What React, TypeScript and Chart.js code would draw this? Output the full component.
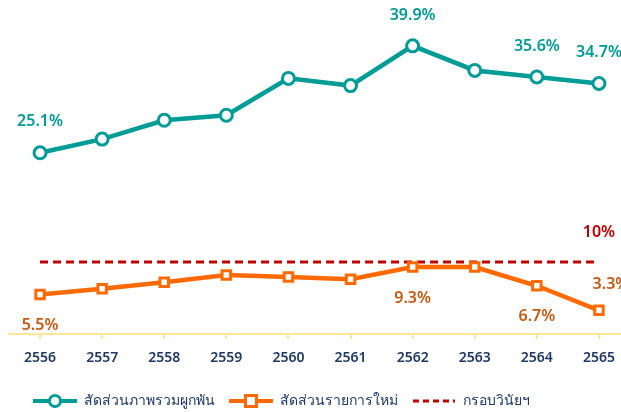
import React, { useEffect, useRef } from "react";
import { Chart, registerables } from "chart.js";

Chart.register(...registerables);

const categories = ["2556", "2557", "2558", "2559", "2560", "2561", "2562", "2563", "2564", "2565"];
const overallShare = [25.1, 27.0, 29.6, 30.3, 35.4, 34.4, 39.9, 36.5, 35.6, 34.7];
const newItemShare = [5.5, 6.3, 7.2, 8.2, 7.9, 7.6, 9.3, 9.3, 6.7, 3.3];
const frameworkLimit = [10, 10, 10, 10, 10, 10, 10, 10, 10, 10];
const seriesNames = ["สัดส่วนภาพรวมผูกพัน", "สัดส่วนรายการใหม่", "กรอบวินัยฯ"];

const TEAL = "#009C95";
const ORANGE = "#FF6A00";
const RED = "#C00000";
const NAVY = "#1F3864";
const FONT = "'Noto Sans', 'Open Sans', sans-serif";

function legendIcon(kind: "circle" | "square" | "dash"): HTMLCanvasElement {
  const c = document.createElement("canvas");
  c.width = 44;
  c.height = 16;
  const g = c.getContext("2d")!;
  const cy = 8;
  if (kind === "dash") {
    g.strokeStyle = RED;
    g.lineWidth = 3;
    g.setLineDash([6, 4]);
    g.beginPath();
    g.moveTo(1, cy);
    g.lineTo(43, cy);
    g.stroke();
    return c;
  }
  const col = kind === "circle" ? TEAL : ORANGE;
  g.strokeStyle = col;
  g.lineWidth = 4;
  g.beginPath();
  g.moveTo(0, cy);
  g.lineTo(44, cy);
  g.stroke();
  g.fillStyle = "#fff";
  g.lineWidth = 3;
  if (kind === "circle") {
    g.beginPath();
    g.arc(22, cy, 5.5, 0, Math.PI * 2);
    g.fill();
    g.stroke();
  } else {
    g.fillRect(16.5, cy - 5.5, 11, 11);
    g.strokeRect(16.5, cy - 5.5, 11, 11);
  }
  return c;
}

type LabelSpec = { ds: number; i: number; dx: number; dy: number; color: string };

const labelSpecs: LabelSpec[] = [
  { ds: 0, i: 0, dx: 0, dy: -31, color: TEAL },
  { ds: 0, i: 6, dx: 0, dy: -30, color: TEAL },
  { ds: 0, i: 8, dx: 0, dy: -30, color: TEAL },
  { ds: 0, i: 9, dx: 0, dy: -31, color: TEAL },
  { ds: 1, i: 0, dx: 0, dy: 31, color: "#C55A11" },
  { ds: 1, i: 6, dx: 0, dy: 31, color: "#C55A11" },
  { ds: 1, i: 8, dx: 0, dy: 31, color: "#C55A11" },
  { ds: 1, i: 9, dx: 12, dy: -26, color: "#C55A11" },
  { ds: 2, i: 9, dx: 0, dy: -29, color: RED },
];

const valueLabels = {
  id: "valueLabels",
  afterDatasetsDraw(chart: any) {
    const ctx = chart.ctx;
    ctx.save();
    ctx.font = `600 16px ${FONT}`;
    ctx.textAlign = "center";
    ctx.textBaseline = "middle";
    for (const s of labelSpecs) {
      const el = chart.getDatasetMeta(s.ds).data[s.i];
      const v = chart.data.datasets[s.ds].data[s.i];
      ctx.fillStyle = s.color;
      ctx.fillText(`${v}%`, el.x + s.dx, el.y + s.dy);
    }
    ctx.restore();
  },
};

const legendShift = {
  id: "legendShift",
  afterLayout(chart: any) {
    if (chart.legend) chart.legend.left += 13;
  },
};

export default function App() {
  const ref = useRef<HTMLCanvasElement>(null);
  useEffect(() => {
    const icons = [legendIcon("circle"), legendIcon("square"), legendIcon("dash")];
    const chart = new Chart(ref.current!, {
      type: "line",
      data: {
        labels: categories,
        datasets: [
          {
            label: seriesNames[0],
            data: overallShare,
            borderColor: TEAL,
            borderWidth: 4.5,
            pointRadius: 6,
            pointBorderWidth: 3,
            pointBackgroundColor: "#fff",
            pointBorderColor: TEAL,
            pointStyle: "circle",
          },
          {
            label: seriesNames[1],
            data: newItemShare,
            borderColor: ORANGE,
            borderWidth: 4.5,
            pointRadius: 6,
            pointBorderWidth: 3,
            pointBackgroundColor: "#fff",
            pointBorderColor: ORANGE,
            pointStyle: "rect",
          },
          {
            label: seriesNames[2],
            data: frameworkLimit,
            borderColor: RED,
            borderWidth: 3,
            borderDash: [8, 5],
            pointRadius: 0,
          },
        ],
      },
      options: {
        responsive: false,
        animation: false,
        layout: { padding: { left: 6, right: 10, top: 7, bottom: -6 } },
        scales: {
          x: {
            offset: true,
            grid: { drawOnChartArea: false, drawTicks: true, tickLength: 5, color: "#FFE699", lineWidth: 2 },
            border: { color: "#FFE699", width: 2 },
            ticks: { color: NAVY, font: { family: FONT, size: 14, weight: 600 }, padding: 10 },
            afterFit(scale: any) {
              scale.height += 4;
            },
          },
          y: { display: false, min: 0, max: 45 },
        },
        plugins: {
          legend: {
            position: "bottom",
            align: "start",
            labels: {
              usePointStyle: true,
              pointStyleWidth: 44,
              boxHeight: 14,
              padding: 14,
              color: NAVY,
              font: { family: FONT, size: 14 },
              generateLabels(chart: any) {
                return chart.data.datasets.map((d: any, i: number) => ({
                  text: d.label,
                  pointStyle: icons[i],
                  datasetIndex: i,
                  fontColor: NAVY,
                  hidden: false,
                  lineWidth: 0,
                }));
              },
            },
          },
          tooltip: { enabled: false },
        },
      },
      plugins: [valueLabels, legendShift],
    });
    return () => chart.destroy();
  }, []);
  return (
    <div style={{ position: "fixed", left: 0, top: 0, width: 621, height: 412, overflow: "hidden", background: "#fff" }}>
      <canvas ref={ref} width={640} height={412} style={{ width: 640, height: 412, display: "block" }} />
    </div>
  );
}
